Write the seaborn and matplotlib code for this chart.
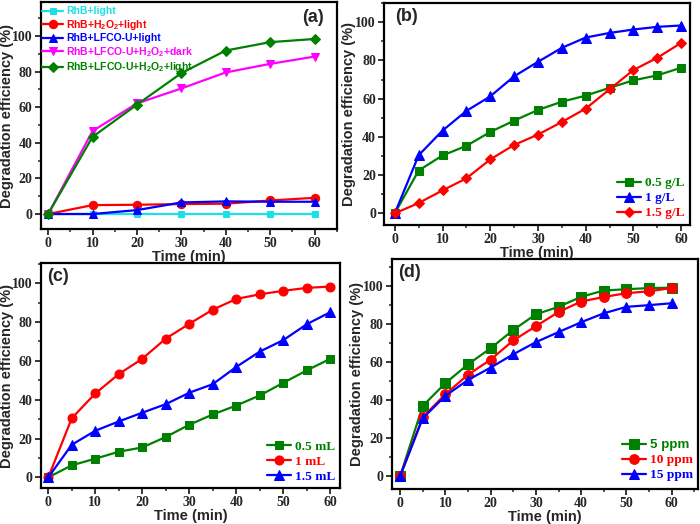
import numpy as np
import pandas as pd
import matplotlib
matplotlib.use("Agg")
import matplotlib.pyplot as plt
import seaborn as sns
from matplotlib.ticker import MultipleLocator

sns.set_theme(style="white")
plt.rcParams['font.family'] = ['Liberation Sans', 'DejaVu Sans']
plt.rcParams['mathtext.fontset'] = 'custom'
plt.rcParams['mathtext.rm'] = 'Liberation Sans'
plt.rcParams['mathtext.bf'] = 'Liberation Sans:bold'
plt.rcParams['mathtext.default'] = 'bf'

# ---------------- data ----------------
t_a = [0, 10, 20, 30, 40, 50, 60]
a_rhb_light = [0, 0, 0, 0, 0, 0, 0]
a_rhb_h2o2_light = [0, 5.0, 5.2, 5.6, 5.8, 7.6, 9.1]
a_rhb_lfco_light = [0, 0, 2.2, 6.5, 7.1, 6.9, 6.9]
a_rhb_lfco_h2o2_dark = [0, 46.6, 62.1, 70.5, 79.5, 84.3, 88.4]
a_rhb_lfco_h2o2_light = [0, 43.3, 61.4, 79.1, 91.8, 96.5, 98.3]
labels_a = ['RhB+light', 'RhB+H$_2$O$_2$+light', 'RhB+LFCO-U+light',
            'RhB+LFCO-U+H$_2$O$_2$+dark', 'RhB+LFCO-U+H$_2$O$_2$+light']

t_bcd = [0, 5, 10, 15, 20, 25, 30, 35, 40, 45, 50, 55, 60]
b_05 = [0, 22.4, 30.3, 35.3, 42.6, 48.5, 54.1, 58.4, 61.6, 65.7, 69.6, 72.2, 76.2]
b_1 = [0, 30.4, 43.3, 53.6, 61.2, 71.7, 79.3, 86.6, 92.0, 94.4, 96.2, 97.6, 98.3]
b_15 = [0, 5.4, 12.0, 18.3, 28.2, 35.8, 41.2, 47.8, 54.8, 64.9, 75.0, 81.4, 89.2]
labels_b = ['0.5 g/L', '1 g/L', '1.5 g/L']

c_05 = [0, 6.2, 9.6, 13.2, 15.4, 20.8, 27.1, 32.4, 37.0, 42.2, 48.7, 55.1, 61.1]
c_1 = [0, 30.5, 43.2, 53.2, 61.1, 71.5, 79.1, 86.4, 91.9, 94.3, 96.1, 97.6, 98.3]
c_15 = [0, 16.8, 24.0, 28.8, 33.3, 37.7, 43.6, 48.0, 56.9, 64.8, 70.7, 78.9, 85.1]
labels_c = ['0.5 mL', '1 mL', '1.5 mL']

d_5 = [0, 37.0, 49.0, 58.9, 67.4, 77.0, 85.3, 89.2, 94.5, 97.8, 98.5, 99.1, 99.3]
d_10 = [0, 31.1, 43.2, 53.4, 61.4, 71.5, 79.0, 86.5, 92.0, 94.4, 96.4, 97.4, 99.1]
d_15 = [0, 30.5, 42.3, 50.7, 57.2, 64.2, 70.6, 75.9, 81.1, 85.8, 89.2, 90.1, 91.1]
labels_d = ['5 ppm', '10 ppm', '15 ppm']

GREEN = '#008000'
RED = '#FF0000'
BLUE = '#0000FF'
CYAN = '#1CE0E8'
MAGENTA = '#FF00FF'

fig = plt.figure(figsize=(7.0, 5.24), dpi=100)

def make_ax(l, b, r, t):
    return fig.add_axes([l, b, r - l, t - b])

ax_a = make_ax(0.0586, 0.563, 0.481, 0.996)
ax_b = make_ax(0.549, 0.571, 0.986, 0.994)
ax_c = make_ax(0.0586, 0.0687, 0.486, 0.498)
ax_d = make_ax(0.560, 0.0668, 0.997, 0.506)

def plot_series(ax, x, ys, labels, colors, markers, msizes):
    for y, lab, col, mk, ms in zip(ys, labels, colors, markers, msizes):
        df = pd.DataFrame({'x': x, 'y': y})
        sns.lineplot(data=df, x='x', y='y', ax=ax, color=col, marker=mk,
                     markersize=ms, markeredgecolor=col, linewidth=1.6,
                     label=lab, legend=False)

def style_ax(ax, xlim, ylim, ylab_x):
    ax.set_xlim(*xlim)
    ax.set_ylim(*ylim)
    ax.xaxis.set_major_locator(MultipleLocator(10))
    ax.xaxis.set_minor_locator(MultipleLocator(5))
    ax.yaxis.set_major_locator(MultipleLocator(20))
    ax.yaxis.set_minor_locator(MultipleLocator(10))
    ax.tick_params(axis='both', which='major', direction='out', length=4, width=1.3,
                   bottom=True, left=True, top=False, right=False, pad=2)
    ax.tick_params(axis='both', which='minor', direction='out', length=2.5, width=1.1,
                   bottom=True, left=True, top=False, right=False)
    for lab in ax.get_xticklabels() + ax.get_yticklabels():
        lab.set_fontfamily('Liberation Serif')
        lab.set_fontweight('bold')
        lab.set_fontsize(10)
    for sp in ax.spines.values():
        sp.set_linewidth(1.6)
        sp.set_color('black')
    ax.set_xlabel('Time (min)', fontsize=10.5, fontweight='bold', labelpad=0)
    ax.set_ylabel('Degradation efficiency (%)', fontsize=10.5, fontweight='bold')
    ax.yaxis.set_label_coords(ylab_x, 0.5)

def colored_legend(ax, loc, fontsize, family, anchor=None, families=None,
                   handlelength=1.8, labelspacing=0.2):
    handles, labs = ax.get_legend_handles_labels()
    kw = dict(loc=loc, frameon=False, fontsize=fontsize, handlelength=handlelength,
              handletextpad=0.3, labelspacing=labelspacing, borderaxespad=0.2,
              borderpad=0.2)
    if anchor is not None:
        kw['bbox_to_anchor'] = anchor
    leg = ax.legend(handles, labs, **kw)
    for i, (txt, h) in enumerate(zip(leg.get_texts(), handles)):
        txt.set_color(h.get_color())
        txt.set_fontweight('bold')
        fam = families[i] if families is not None else family
        txt.set_fontfamily(fam)
    return leg

# (a)
plot_series(ax_a, t_a,
            [a_rhb_light, a_rhb_h2o2_light, a_rhb_lfco_light, a_rhb_lfco_h2o2_dark, a_rhb_lfco_h2o2_light],
            labels_a, [CYAN, RED, BLUE, MAGENTA, GREEN], ['s', 'o', '^', 'v', 'D'],
            [5, 6, 6, 6, 5.5])
style_ax(ax_a, (-1.6, 65), (-8.4, 119), -0.092)
colored_legend(ax_a, 'upper left', 7.5, 'Liberation Sans', anchor=(-0.01, 1.0),
               handlelength=2.0, labelspacing=0.15)
ax_a.text(0.955, 0.93, '(a)', transform=ax_a.transAxes, ha='right', va='center',
          fontsize=13, fontweight='bold')

# (b)
plot_series(ax_b, t_bcd, [b_05, b_1, b_15], labels_b, [GREEN, BLUE, RED],
            ['s', '^', 'D'], [5.5, 6.5, 5.5])
style_ax(ax_b, (-2.2, 61.9), (-6, 110), -0.092)
colored_legend(ax_b, 'lower right', 9.6, 'Liberation Serif', anchor=(1.0, 0.0))
ax_b.text(0.035, 0.94, '(b)', transform=ax_b.transAxes, ha='left', va='center',
          fontsize=13, fontweight='bold')

# (c)
plot_series(ax_c, t_bcd, [c_05, c_1, c_15], labels_c, [GREEN, RED, BLUE],
            ['s', 'o', '^'], [5.5, 6.5, 6.5])
style_ax(ax_c, (-1.55, 62.1), (-5.5, 110.4), -0.090)
colored_legend(ax_c, 'lower right', 9.6, 'Liberation Serif', anchor=(1.0, 0.0))
ax_c.text(0.02, 0.94, '(c)', transform=ax_c.transAxes, ha='left', va='center',
          fontsize=13, fontweight='bold')

# (d)
plot_series(ax_d, t_bcd, [d_5, d_10, d_15], labels_d, [GREEN, RED, BLUE],
            ['s', 'o', '^'], [6.5, 7, 7])
style_ax(ax_d, (-1.8, 65.8), (-6.8, 114.5), -0.092)
colored_legend(ax_d, 'lower right', 9.6, 'Liberation Serif', anchor=(1.0, 0.01),
               families=['Liberation Sans', 'Liberation Serif', 'Liberation Serif'])
ax_d.text(0.02, 0.94, '(d)', transform=ax_d.transAxes, ha='left', va='center',
          fontsize=13, fontweight='bold')

fig.savefig('out.png', dpi=100)
